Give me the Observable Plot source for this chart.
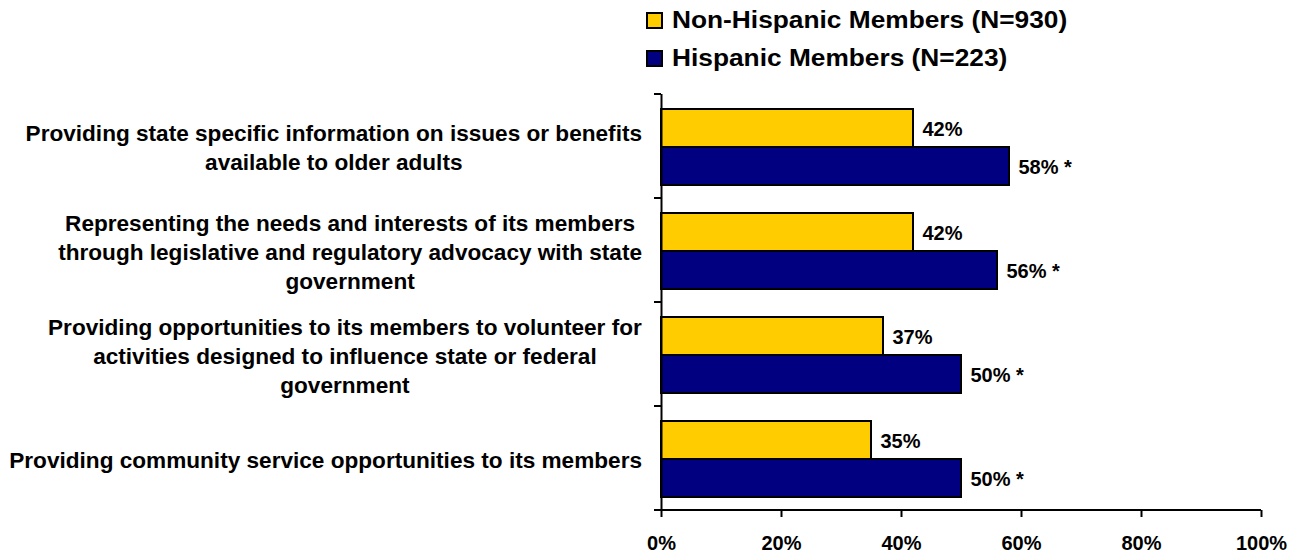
<!DOCTYPE html>
<html><head><meta charset="utf-8">
<script src="https://cdn.jsdelivr.net/npm/d3@7"></script>
<script src="https://cdn.jsdelivr.net/npm/@observablehq/plot@0.6"></script>
<style>
html,body{margin:0;padding:0;background:#fff;overflow:hidden}
body{width:1299px;height:557px;font-family:"Liberation Sans",Arial,sans-serif}
#legend{position:relative;height:80px;width:1299px}
.item{position:absolute;left:646px;height:17px;line-height:17px;display:flex;align-items:center;font-weight:bold;font-size:23px;color:#000;white-space:nowrap}
.sw{width:13px;height:13px;border:2px solid #000;margin-right:9px;flex:none}
.lt{display:inline-block;transform:scaleX(1.143);transform-origin:0 50%}
#chart{height:477px}
</style></head>
<body>
<div id="legend"></div>
<div id="chart"></div>
<script>
const categories = [
  "Providing state specific information on issues or benefits\navailable to older adults",
  "Representing the needs and interests of its members\nthrough legislative and regulatory advocacy with state\ngovernment",
  "Providing opportunities to its members to volunteer for\nactivities designed to influence state or federal\ngovernment",
  "Providing community service opportunities to its members"
];
const series = ["Non-Hispanic Members (N=930)", "Hispanic Members (N=223)"];
const nonHispanic = [42, 42, 37, 35];
const hispanic = [58, 56, 50, 50];
const hispanicSignificant = [true, true, true, true];
const xTicks = [0, 20, 40, 60, 80, 100];
const colors = ["#FFCC00", "#000080"];

// legend
const legend = document.getElementById("legend");
series.forEach((s, i) => {
  const item = document.createElement("div");
  item.className = "item";
  item.style.top = (i === 0 ? 12 : 49.5) + "px";
  const sw = document.createElement("span");
  sw.className = "sw";
  sw.style.background = colors[i];
  const t = document.createElement("span");
  t.className = "lt";
  t.textContent = s;
  item.append(sw, t);
  legend.append(item);
});

const rows = categories.flatMap((c, i) => [
  {category: c, series: series[0], value: nonHispanic[i], label: nonHispanic[i] + "%"},
  {category: c, series: series[1], value: hispanic[i], label: hispanic[i] + "%" + (hispanicSignificant[i] ? " *" : "")}
]);

const chart = Plot.plot({
  width: 1299,
  height: 477,
  marginTop: 13,
  marginBottom: 47,
  marginLeft: 661,
  marginRight: 38,
  style: {fontFamily: '"Liberation Sans", Arial, sans-serif', background: "white", color: "black"},
  x: {domain: [0, 100], axis: null},
  y: {domain: series, paddingInner: 0, paddingOuter: 0.354, align: 0.55, axis: null},
  fy: {domain: categories, padding: 0, axis: null},
  color: {domain: series, range: colors},
  marks: [
    Plot.barX(rows, {x: "value", y: "series", fy: "category", fill: "series", stroke: "black", strokeWidth: 2}),
    Plot.text(rows, {x: "value", y: "series", fy: "category", text: "label", textAnchor: "start", dx: 9, dy: 1, fontSize: 20, fontWeight: "bold", fill: "black"}),
    Plot.ruleX([0], {stroke: "black", strokeWidth: 2}),
    Plot.axisX({ticks: xTicks, tickFormat: d => d + "%", tickSize: 7, tickPadding: 18, strokeWidth: 2, fontSize: 20, fontWeight: "bold", label: null}),
    Plot.axisFy({anchor: "left", tickSize: 0, tickPadding: 19, fontSize: 22.6, fontWeight: "bold", lineHeight: 1.29, textAnchor: "middle", label: null})
  ]
});
document.getElementById("chart").append(chart);

// centre each category label block with its right edge aligned near the axis
const svgRect = chart.getBoundingClientRect();
d3.select(chart).selectAll('g[aria-label="fy-axis tick label"] text').each(function() {
  const r = this.getBoundingClientRect();
  const right = r.right - svgRect.left;
  const shift = (chart.scale("x").apply(0) - 19) - right;
  this.setAttribute("transform", (this.getAttribute("transform") || "") + ` translate(${shift},0)`);
});

// category boundary ticks and x-axis line, from the library's scales
const fy = chart.scale("fy"), xs = chart.scale("x");
const x0 = xs.apply(0);
const last = categories[categories.length - 1];
const bounds = categories.map(c => fy.apply(c)).concat([fy.apply(last) + fy.bandwidth]);
const g = d3.select(chart).append("g").attr("stroke", "black").attr("stroke-width", 2);
g.selectAll("line.b").data(bounds).join("line").attr("class", "b")
  .attr("x1", x0 - 7).attr("x2", x0).attr("y1", d => d).attr("y2", d => d);
g.append("line").attr("x1", x0 - 7).attr("x2", xs.apply(100))
  .attr("y1", bounds[bounds.length - 1]).attr("y2", bounds[bounds.length - 1]);
</script>
</body></html>
